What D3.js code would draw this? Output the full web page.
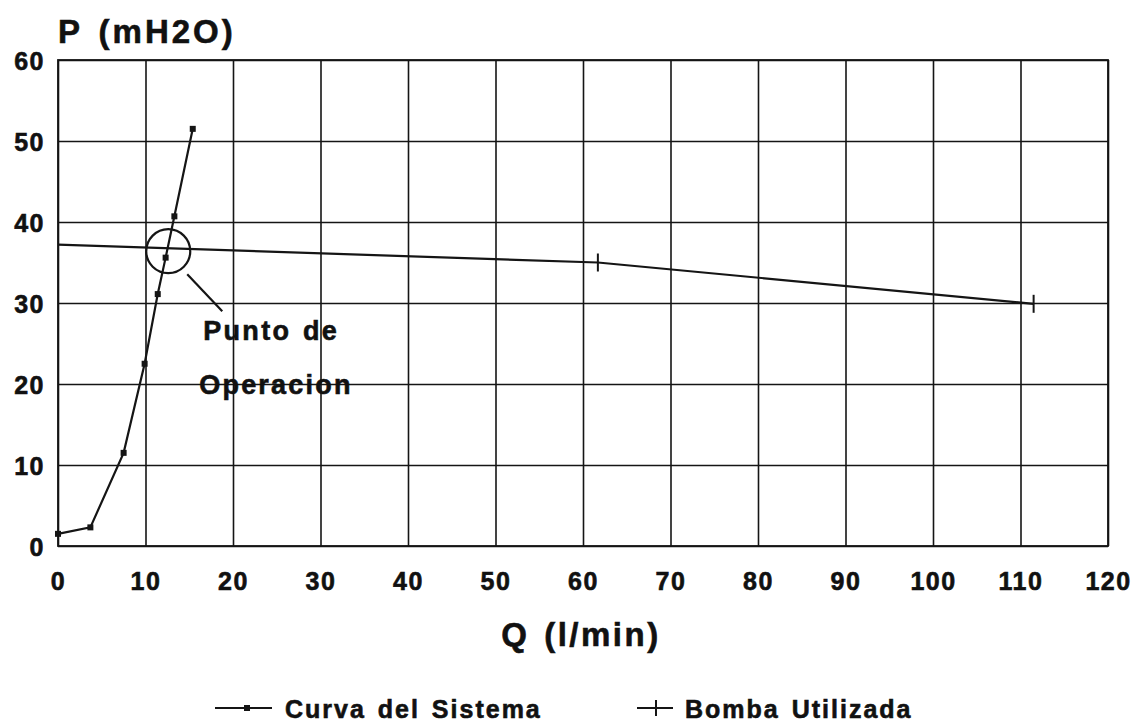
<!DOCTYPE html>
<html>
<head>
<meta charset="utf-8">
<script src="https://cdn.jsdelivr.net/npm/d3@7/dist/d3.min.js"></script>
<style>
  html, body { margin: 0; padding: 0; background: #fff; }
  svg { display: block; }
  text { font-family: "Liberation Sans", Arial, Helvetica, sans-serif; font-weight: bold; fill: #111; stroke: #111; stroke-width: 0.6px; }
</style>
</head>
<body>
<svg id="chart" width="1137" height="726"></svg>
<script>
// Axis ticks
const qTicks = [0, 10, 20, 30, 40, 50, 60, 70, 80, 90, 100, 110, 120];
const pTicks = [0, 10, 20, 30, 40, 50, 60];

// System curve (Curva del Sistema): flow Q (l/min) vs head P (mH2O)
const sysQ = [0, 3.7, 7.5, 9.9, 11.4, 12.3, 13.3, 15.4];
const sysP = [1.5, 2.3, 11.5, 22.5, 31.1, 35.6, 40.7, 51.5];

// Pump curve (Bomba Utilizada)
const pumpQ = [0, 61.7, 111.5];
const pumpP = [37.2, 35.0, 29.9];

// Operating point (intersection of both curves)
const opQ = 12.6;
const opP = 36.4;

const seriesNames = ["Curva del Sistema", "Bomba Utilizada"];

const svg = d3.select("#chart");
const margin = { left: 58, right: 29, top: 60, bottom: 180 };
const W = 1137, H = 726;
const x = d3.scaleLinear().domain([0, 120]).range([margin.left, W - margin.right]);
const y = d3.scaleLinear().domain([0, 60]).range([H - margin.bottom, margin.top]);
const plotH = y(0) - y(60);
const plotW = x(120) - x(0);

const ink = "#151515";

// Grid lines
svg.append("g")
  .attr("transform", `translate(0,${y(0)})`)
  .call(d3.axisBottom(x).tickValues(qTicks).tickSize(-plotH).tickFormat(""))
  .call(g => g.select(".domain").remove())
  .call(g => g.selectAll("line").attr("stroke", ink).attr("stroke-width", 1.6));

svg.append("g")
  .attr("transform", `translate(${x(0)},0)`)
  .call(d3.axisLeft(y).tickValues(pTicks).tickSize(-plotW).tickFormat(""))
  .call(g => g.select(".domain").remove())
  .call(g => g.selectAll("line").attr("stroke", ink).attr("stroke-width", 1.6));

// Frame
svg.append("rect")
  .attr("x", x(0)).attr("y", y(60))
  .attr("width", plotW).attr("height", plotH)
  .attr("fill", "none").attr("stroke", ink).attr("stroke-width", 1.8);

// Tick labels
svg.append("g")
  .attr("transform", `translate(0,${y(0)})`)
  .call(d3.axisBottom(x).tickValues(qTicks).tickSize(0).tickFormat(d3.format("d")))
  .call(g => g.select(".domain").remove())
  .call(g => g.selectAll("text")
    .attr("y", 44).attr("dy", 0)
    .style("font-size", "25px").style("letter-spacing", "1.5px")
    .attr("fill", ink));

svg.append("g")
  .attr("transform", `translate(${x(0)},0)`)
  .call(d3.axisLeft(y).tickValues(pTicks).tickSize(0).tickPadding(13).tickFormat(d3.format("d")))
  .call(g => g.select(".domain").remove())
  .call(g => g.selectAll("text")
    .attr("dy", "0.36em")
    .style("font-size", "25px").style("letter-spacing", "1.5px")
    .attr("fill", ink));

// Axis titles
svg.append("text")
  .attr("x", 58).attr("y", 43)
  .style("font-size", "33px").style("letter-spacing", "3px").style("word-spacing", "4px")
  .text("P (mH2O)");

svg.append("text")
  .attr("x", 581).attr("y", 646)
  .attr("text-anchor", "middle")
  .style("font-size", "33px").style("letter-spacing", "2.5px").style("word-spacing", "3px")
  .text("Q (l/min)");

const line = d3.line().x(d => x(d[0])).y(d => y(d[1]));

// Pump curve
const pumpData = pumpQ.map((q, i) => [q, pumpP[i]]);
svg.append("path")
  .datum(pumpData)
  .attr("d", line)
  .attr("fill", "none").attr("stroke", ink).attr("stroke-width", 2.2);
svg.append("g").selectAll("line")
  .data(pumpData.slice(1))
  .join("line")
  .attr("x1", d => x(d[0])).attr("x2", d => x(d[0]))
  .attr("y1", d => y(d[1]) - 9).attr("y2", d => y(d[1]) + 9)
  .attr("stroke", ink).attr("stroke-width", 2);

// System curve
const sysData = sysQ.map((q, i) => [q, sysP[i]]);
svg.append("path")
  .datum(sysData)
  .attr("d", line)
  .attr("fill", "none").attr("stroke", ink).attr("stroke-width", 2.2);
svg.append("g").selectAll("rect")
  .data(sysData)
  .join("rect")
  .attr("x", d => x(d[0]) - 3).attr("y", d => y(d[1]) - 3)
  .attr("width", 6).attr("height", 6)
  .attr("fill", ink);

// Operating point marker and callout
const ox = x(opQ), oy = y(opP);
svg.append("circle")
  .attr("cx", ox).attr("cy", oy).attr("r", 22)
  .attr("fill", "none").attr("stroke", ink).attr("stroke-width", 2.2);
svg.append("line")
  .attr("x1", ox + 19).attr("y1", oy + 23)
  .attr("x2", ox + 54).attr("y2", oy + 60)
  .attr("stroke", ink).attr("stroke-width", 2.2);
svg.append("text")
  .attr("x", ox + 35).attr("y", oy + 89)
  .style("font-size", "27px").style("letter-spacing", "2.3px").style("word-spacing", "2px")
  .text("Punto de");
svg.append("text")
  .attr("x", ox + 31).attr("y", oy + 143)
  .style("font-size", "27px").style("letter-spacing", "2.2px")
  .text("Operacion");

// Legend
const legY = 708;
const leg = svg.append("g");
// system entry
leg.append("line").attr("x1", 215).attr("x2", 272).attr("y1", legY).attr("y2", legY)
  .attr("stroke", ink).attr("stroke-width", 2.2);
leg.append("rect").attr("x", 244).attr("y", legY - 3).attr("width", 6).attr("height", 6).attr("fill", ink);
leg.append("text").attr("x", 285).attr("y", legY + 10)
  .style("font-size", "25px").style("letter-spacing", "2px").style("word-spacing", "3px")
  .text(seriesNames[0]);
// pump entry
leg.append("line").attr("x1", 637).attr("x2", 673).attr("y1", legY).attr("y2", legY)
  .attr("stroke", ink).attr("stroke-width", 2.2);
leg.append("line").attr("x1", 656).attr("x2", 656).attr("y1", legY - 8).attr("y2", legY + 8)
  .attr("stroke", ink).attr("stroke-width", 2);
leg.append("text").attr("x", 685).attr("y", legY + 10)
  .style("font-size", "25px").style("letter-spacing", "2px").style("word-spacing", "3px")
  .text(seriesNames[1]);
</script>
</body>
</html>
